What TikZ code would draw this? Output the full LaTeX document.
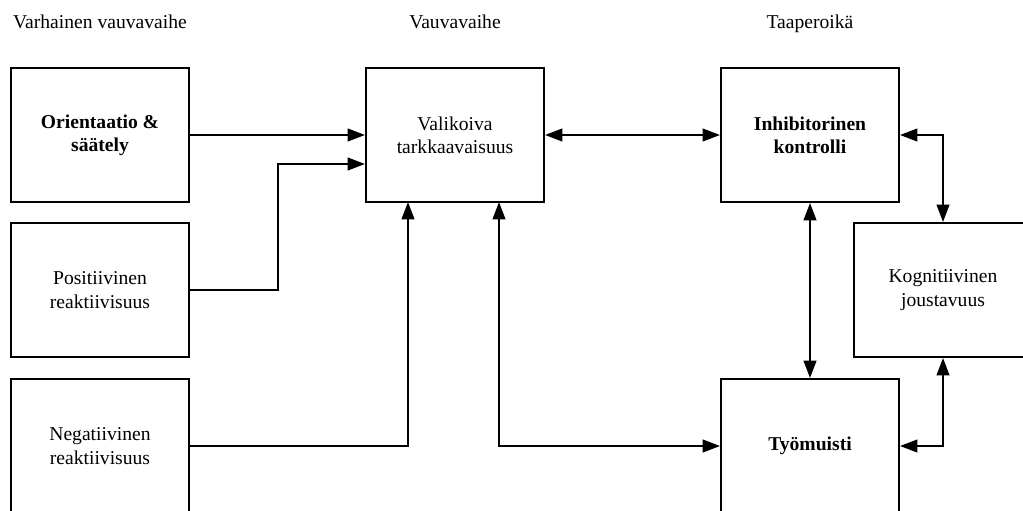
\documentclass[tikz,border=0pt]{standalone}
\usepackage{fontspec}
\setmainfont{Liberation Serif}
\usetikzlibrary{arrows.meta}
\tikzset{
  stage/.style = {draw, line width = 1.5pt, minimum width = 133.5pt, minimum height = 100.5pt, align = center, inner sep = 0pt},
  phase/.style = {anchor = base},
  conn/.style = {line width = 1.5pt, -{Triangle[length = 13pt, width = 9.5pt]}},
  biconn/.style = {line width = 1.5pt, {Triangle[length = 13pt, width = 9.5pt]}-{Triangle[length = 13pt, width = 9.5pt]}}
}
\begin{document}
\begin{tikzpicture}[x = 0.75pt, y = -0.75pt, font = \fontsize{14.7}{17.5}\selectfont]
\useasboundingbox (0, 0) rectangle (1023, 510);
\clip (0, 0) rectangle (1023, 510);
% phases
\node[phase] (early) at (100, 29) {Varhainen vauvavaihe};
\node[phase] (infant) at (455, 29) {Vauvavaihe};
\node[phase] (toddler) at (810, 29) {Taaperoikä};
% boxes
\node[stage] (orient) at (100, 135) {\textbf{Orientaatio \&}\\\textbf{säätely}};
\node[stage] (pos) at (100, 290) {Positiivinen\\reaktiivisuus};
\node[stage] (neg) at (100, 446) {Negatiivinen\\reaktiivisuus};
\node[stage] (attn) at (455, 135) {Valikoiva\\tarkkaavaisuus};
\node[stage] (inhib) at (810, 135) {\textbf{Inhibitorinen}\\\textbf{kontrolli}};
\node[stage] (flex) at (943, 290) {Kognitiivinen\\joustavuus};
\node[stage] (wm) at (810, 446) {\textbf{Työmuisti}};
% bends
\coordinate (posbend) at (278, 164);
\coordinate (negin) at (408, 202);
\coordinate (attnout) at (499, 202);
% connectors
\draw[conn] (orient) -- (attn);
\draw[conn] (pos.east) -| (posbend) -- (attn.west |- posbend);
\draw[conn] (neg.east) -| (negin);
\draw[biconn] (attnout) |- (wm.west);
\draw[biconn] (attn) -- (inhib);
\draw[biconn] (inhib) -- (wm);
\draw[biconn] (inhib.east) -| (flex.north);
\draw[biconn] (wm.east) -| (flex.south);
\end{tikzpicture}
\end{document}
